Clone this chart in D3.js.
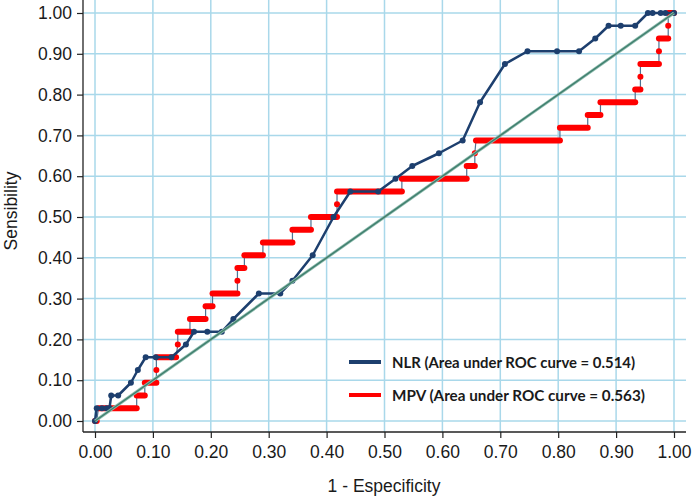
<!DOCTYPE html>
<html>
<head>
<meta charset="utf-8">
<script src="https://cdn.jsdelivr.net/npm/d3@7"></script>
<style>
  body { margin: 0; background: #fff; }
  svg { display: block; }
</style>
</head>
<body>
<svg id="chart" width="693" height="501"></svg>
<script>
// tick values shared by both axes
var ticks = [0, 0.1, 0.2, 0.3, 0.4, 0.5, 0.6, 0.7, 0.8, 0.9, 1.0];

// NLR curve points (1 - specificity, sensitivity)
var nlrFpr = [0.0, 0.003, 0.012, 0.02, 0.025, 0.028, 0.04, 0.062, 0.074, 0.0875, 0.105, 0.132,
              0.157, 0.171, 0.194, 0.219, 0.239, 0.283, 0.32, 0.341, 0.376, 0.412, 0.441, 0.489,
              0.519, 0.548, 0.594, 0.635, 0.665, 0.708, 0.747, 0.798, 0.836, 0.864, 0.887, 0.908,
              0.933, 0.955, 0.963, 0.977, 0.985, 1.0];
var nlrTpr = [0, 0.03125, 0.03125, 0.03125, 0.03125, 0.0625, 0.0625, 0.09375, 0.125, 0.15625, 0.15625, 0.15625,
              0.1875, 0.21875, 0.21875, 0.21875, 0.25, 0.3125, 0.3125, 0.34375, 0.40625, 0.5, 0.5625, 0.5625,
              0.59375, 0.625, 0.65625, 0.6875, 0.78125, 0.875, 0.90625, 0.90625, 0.90625, 0.9375, 0.96875, 0.96875,
              0.96875, 1, 1, 1, 1, 1];

// MPV curve: each sensitivity level held from fprFrom to fprTo
var mpvTpr  = [0, 0.03125, 0.0625, 0.09375, 0.125, 0.15625, 0.1875, 0.21875, 0.25, 0.28125, 0.3125,
               0.34375, 0.375, 0.40625, 0.4375, 0.46875, 0.5, 0.53125, 0.5625, 0.59375, 0.625, 0.65625,
               0.6875, 0.71875, 0.75, 0.78125, 0.8125, 0.84375, 0.875, 0.90625, 0.9375, 0.96875, 1.0];
var mpvFrom = [0, 0.006, 0.072, 0.086, 0.106, 0.106, 0.143, 0.143, 0.164, 0.191, 0.203,
               0.246, 0.246, 0.258, 0.29, 0.341, 0.373, 0.418, 0.418, 0.53, 0.642, 0.656,
               0.658, 0.803, 0.851, 0.873, 0.933, 0.942, 0.942, 0.974, 0.974, 0.99, 0.99];
var mpvTo   = [0.003, 0.072, 0.086, 0.106, 0.106, 0.14, 0.143, 0.164, 0.191, 0.203, 0.246,
               0.246, 0.258, 0.29, 0.341, 0.373, 0.418, 0.418, 0.53, 0.642, 0.656, 0.656,
               0.803, 0.851, 0.873, 0.933, 0.942, 0.942, 0.974, 0.974, 0.99, 0.99, 1.0];

var legendLabels = ["NLR (Area under ROC curve = 0.514)", "MPV (Area under ROC curve = 0.563)"];

var svg = d3.select("#chart");
var plot = {left: 83, right: 686, top: 0, bottom: 432};

var x = d3.scaleLinear().domain([0, 1]).range([95, 674]);
var y = d3.scaleLinear().domain([0, 1]).range([421, 13]);

var gridColor = "#a9d8ea";
var navy = "#1d3f6e";
var red = "#ff0000";
var fmt = d3.format(".2f");

// grid
var grid = svg.append("g");
grid.selectAll("line.v").data(ticks).enter().append("line")
    .attr("x1", d => x(d)).attr("x2", d => x(d))
    .attr("y1", plot.top).attr("y2", plot.bottom)
    .attr("stroke", gridColor).attr("stroke-width", 1.5);
grid.selectAll("line.h").data(ticks).enter().append("line")
    .attr("y1", d => y(d)).attr("y2", d => y(d))
    .attr("x1", plot.left).attr("x2", plot.right)
    .attr("stroke", gridColor).attr("stroke-width", 1.5);

// axes
var xAxis = svg.append("g")
    .attr("transform", "translate(0," + plot.bottom + ")")
    .call(d3.axisBottom(x).tickValues(ticks).tickFormat(fmt).tickSize(6).tickPadding(8));
var yAxis = svg.append("g")
    .attr("transform", "translate(" + plot.left + ",0)")
    .call(d3.axisLeft(y).tickValues(ticks).tickFormat(fmt).tickSize(6).tickPadding(5));
[xAxis, yAxis].forEach(function(a) {
    a.select(".domain").remove();
    a.selectAll("line").attr("stroke", "#222").attr("stroke-width", 1.2);
    a.selectAll("text")
        .attr("font-family", "Liberation Sans, Arial, sans-serif")
        .attr("font-size", 17.5).attr("fill", "#1a1a1a");
});
svg.append("line").attr("x1", plot.left).attr("x2", plot.right)
    .attr("y1", plot.bottom).attr("y2", plot.bottom)
    .attr("stroke", "#222").attr("stroke-width", 1.3);
svg.append("line").attr("x1", plot.left).attr("x2", plot.left)
    .attr("y1", plot.top).attr("y2", plot.bottom)
    .attr("stroke", "#222").attr("stroke-width", 1.3);

// axis titles
svg.append("text")
    .attr("x", 384).attr("y", 492)
    .attr("text-anchor", "middle")
    .attr("font-family", "Liberation Sans, Arial, sans-serif")
    .attr("font-size", 17.5).attr("fill", "#1a1a1a")
    .text("1 - Especificity");
svg.append("text")
    .attr("transform", "translate(17,211) rotate(-90)")
    .attr("text-anchor", "middle")
    .attr("font-family", "Liberation Sans, Arial, sans-serif")
    .attr("font-size", 17.5).attr("fill", "#1a1a1a")
    .text("Sensibility");

// MPV: thin connectors then red runs
var mpv = mpvTpr.map((t, i) => ({tpr: t, from: mpvFrom[i], to: mpvTo[i]}));
var stepPts = [];
mpv.forEach(function(d) { stepPts.push([d.from, d.tpr]); stepPts.push([d.to, d.tpr]); });
svg.append("path")
    .attr("d", d3.line().x(d => x(d[0])).y(d => y(d[1]))(stepPts))
    .attr("fill", "none").attr("stroke", "#4d7393").attr("stroke-width", 1.2);
svg.append("g").selectAll("line").data(mpv).enter().append("line")
    .attr("x1", d => x(d.from)).attr("x2", d => x(d.to))
    .attr("y1", d => y(d.tpr)).attr("y2", d => y(d.tpr))
    .attr("stroke", red).attr("stroke-width", 6).attr("stroke-linecap", "round");

// NLR line with markers
var nlr = nlrFpr.map((f, i) => [f, nlrTpr[i]]);
svg.append("path")
    .attr("d", d3.line().x(d => x(d[0])).y(d => y(d[1]))(nlr))
    .attr("fill", "none").attr("stroke", navy).attr("stroke-width", 2.5)
    .attr("stroke-linejoin", "round");
svg.append("g").selectAll("circle").data(nlr).enter().append("circle")
    .attr("cx", d => x(d[0])).attr("cy", d => y(d[1])).attr("r", 3)
    .attr("fill", navy);

// reference diagonal
svg.append("line")
    .attr("x1", x(0)).attr("y1", y(0)).attr("x2", x(1)).attr("y2", y(1))
    .attr("stroke", "#8dbcae").attr("stroke-width", 3);
svg.append("line")
    .attr("x1", x(0)).attr("y1", y(0)).attr("x2", x(1)).attr("y2", y(1))
    .attr("stroke", "#3f7e6d").attr("stroke-width", 1.4);

// legend
var legendColors = [navy, red];
var legendY = [362, 395];
var legendW = [243, 253];
var lg = svg.append("g");
legendLabels.forEach(function(lbl, i) {
    lg.append("line")
        .attr("x1", 349).attr("x2", 381)
        .attr("y1", legendY[i]).attr("y2", legendY[i])
        .attr("stroke", legendColors[i]).attr("stroke-width", 4);
    lg.append("text")
        .attr("x", 392).attr("y", legendY[i] + 6)
        .attr("font-family", "Lato, Open Sans, sans-serif")
        .attr("font-weight", "bold").attr("font-size", 15.5)
        .attr("fill", "#1a1a1a")
        .attr("textLength", legendW[i]).attr("lengthAdjust", "spacingAndGlyphs")
        .text(lbl);
});
</script>
</body>
</html>
